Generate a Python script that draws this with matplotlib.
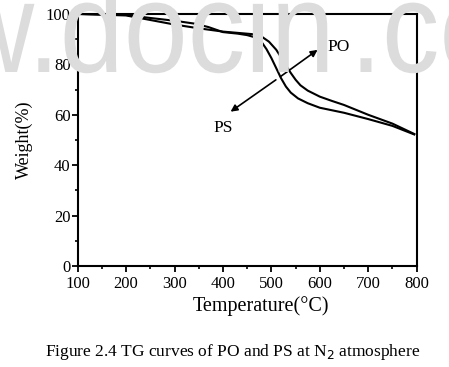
import matplotlib
matplotlib.use("Agg")
import matplotlib.pyplot as plt
from matplotlib.ticker import MultipleLocator
from matplotlib.textpath import TextPath
from matplotlib.patches import PathPatch
from matplotlib.font_manager import FontProperties
from matplotlib.transforms import Affine2D, IdentityTransform

# ===================== DATA =====================
po_temp = [100, 150, 200, 250, 300, 350, 400, 430, 460, 480, 495, 510, 520, 530,
           540, 550, 560, 575, 600, 625, 650, 700, 750, 795]
po_weight = [100, 99.7, 99.4, 97.6, 95.8, 94.3, 93.0, 92.5, 92.0, 91.0, 89.0, 85.8,
             82.8, 79.6, 76.6, 73.9, 71.7, 69.6, 67.2, 65.5, 63.9, 60.0, 56.5, 52.4]

ps_temp = [100, 150, 200, 250, 300, 340, 370, 400, 430, 450, 465, 480, 490, 500,
           510, 520, 530, 540, 555, 575, 600, 650, 700, 750, 795]
ps_weight = [100, 99.8, 99.6, 98.4, 97.3, 96.2, 94.8, 92.8, 92.2, 91.6, 90.8, 88.8,
             86.0, 82.5, 78.5, 74.5, 71.2, 68.8, 66.5, 64.6, 62.8, 60.8, 58.3, 55.6, 52.2]

x_ticks = [100, 200, 300, 400, 500, 600, 700, 800]
y_ticks = [0, 20, 40, 60, 80, 100]

plt.rcParams['font.family'] = ['Liberation Serif', 'DejaVu Serif']

fig = plt.figure(figsize=(4.49, 3.67), dpi=100)
fig.patch.set_facecolor('white')

# watermark (stretched text paths, in pixel coords)
wm_font = FontProperties(family='Liberation Sans')
for txt, x0 in [("www.docin", -215), (".com", 350)]:
    p = TextPath((0, 0), txt, size=100, prop=wm_font)
    tr = Affine2D().scale(1.15, 1.29).translate(x0, 295)
    fig.patches.append(PathPatch(tr.transform_path(p), facecolor='#dcdcdc',
                                 edgecolor='none', transform=IdentityTransform(),
                                 zorder=0, figure=fig))

ax = fig.add_axes([0.173, 0.275, 0.755, 0.687])
ax.patch.set_alpha(0)

ax.plot(po_temp, po_weight, color='black', lw=1.5)
ax.plot(ps_temp, ps_weight, color='black', lw=1.5)

# arrows
ax.annotate("", xy=(600, 86.4), xytext=(514, 74.5),
            arrowprops=dict(arrowstyle='-|>', color='black', lw=1.2, mutation_scale=10))
ax.annotate("", xy=(411, 60.6), xytext=(514, 74.5),
            arrowprops=dict(arrowstyle='-|>', color='black', lw=1.2, mutation_scale=10))
ax.text(638, 87, "PO", fontsize=12.5, ha='center', va='center')
ax.text(401, 54.9, "PS", fontsize=12.5, ha='center', va='center')

ax.set_xlim(100, 800)
ax.set_ylim(0, 100)
ax.set_xticks(x_ticks)
ax.set_yticks(y_ticks)
ax.xaxis.set_minor_locator(MultipleLocator(50))
ax.yaxis.set_minor_locator(MultipleLocator(10))
ax.tick_params(which='major', direction='out', length=4, width=1.3, labelsize=12, pad=1)
ax.tick_params(axis='x', which='major', pad=3.5)
ax.tick_params(which='minor', direction='out', length=2.5, width=1.2)
for s in ax.spines.values():
    s.set_linewidth(1.5)

ax.set_xlabel("Temperature(°C)", fontsize=14.5, labelpad=0)
ax.xaxis.set_label_coords(0.54, -0.12)
ax.set_ylabel("Weight(%)", fontsize=13, labelpad=9)

fig.text(0.517, 0.04, "Figure 2.4 TG curves of PO and PS at N$_2$ atmosphere",
         fontsize=12.5, ha='center', va='center')

fig.savefig("out.png", dpi=100)
